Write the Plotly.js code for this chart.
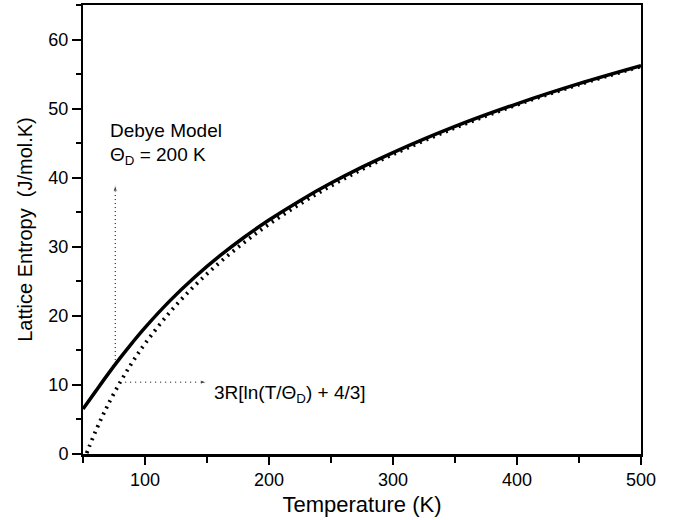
<!DOCTYPE html>
<html>
<head>
<meta charset="utf-8">
<script src="https://cdn.plot.ly/plotly-3.0.1.min.js"></script>
<style>html,body{margin:0;padding:0;background:#fff;}#chart{width:676px;height:520px;}</style>
</head>
<body>
<div id="chart"></div>
<script>
// Debye model lattice entropy (solid)
const debyeT = [50, 60, 70, 80, 90, 100, 120, 140, 160, 180, 200, 225, 250, 275, 300, 350, 400, 450, 500];
const debyeS = [6.50, 9.03, 11.53, 13.91, 16.17, 18.30, 22.17, 25.59, 28.64, 31.38, 33.87, 36.68, 39.22, 41.53, 43.64, 47.42, 50.70, 53.61, 56.21];
// High-temperature approximation 3R[ln(T/ΘD) + 4/3] (dotted)
const approxT = [53, 55, 60, 65, 70, 80, 90, 100, 120, 140, 160, 180, 200, 225, 250, 275, 300, 350, 400, 450, 500];
const approxS = [0.13, 1.06, 3.23, 5.22, 7.07, 10.40, 13.34, 15.97, 20.52, 24.36, 27.69, 30.63, 33.26, 36.19, 38.82, 41.20, 43.37, 47.21, 50.55, 53.48, 56.11];
// annotation arrows
const vArrowT = [76, 76];
const vArrowS = [13.6, 39];
const hArrowT = [84, 150];
const hArrowS = [10.4, 10.4];
const yTicks = [0, 10, 20, 30, 40, 50, 60];
const xTicks = [100, 200, 300, 400, 500];

const font = "Liberation Sans, Arial, Helvetica, sans-serif";

const traces = [
  {x: debyeT, y: debyeS, mode: 'lines', line: {color: '#000', width: 3.5, shape: 'spline'}, hoverinfo: 'skip'},
  {x: approxT, y: approxS, mode: 'lines', line: {color: '#000', width: 3.8, dash: '2px,5px', shape: 'spline'}, hoverinfo: 'skip'},
  {x: vArrowT, y: vArrowS, mode: 'lines+markers', line: {color: '#000', width: 1, dash: '1px,3px'},
   marker: {symbol: 'arrow', size: [0, 7], color: '#000', angleref: 'previous'}, hoverinfo: 'skip'},
  {x: hArrowT, y: hArrowS, mode: 'lines+markers', line: {color: '#000', width: 1, dash: '1px,4px'},
   marker: {symbol: 'arrow', size: [0, 7], color: '#000', angleref: 'previous'}, hoverinfo: 'skip'}
];

const layout = {
  width: 676, height: 520,
  margin: {l: 83, r: 35, t: 5, b: 66},
  paper_bgcolor: '#fff', plot_bgcolor: '#fff',
  showlegend: false,
  font: {family: font, color: '#000', size: 18},
  xaxis: {
    range: [50, 500], showgrid: false, zeroline: false,
    showline: true, linecolor: '#000', linewidth: 2.5, mirror: true,
    ticks: 'outside', ticklen: 8, tickwidth: 2, tickcolor: '#000',
    tickvals: xTicks, ticktext: xTicks.map(String),
    tickfont: {size: 18, family: font},
    minor: {dtick: 50, tick0: 0, ticks: 'outside', ticklen: 6, tickwidth: 2, tickcolor: '#000'},
    title: {text: 'Temperature (K)', font: {size: 22, family: font}, standoff: 8}
  },
  yaxis: {
    range: [0, 65], showgrid: false, zeroline: false,
    showline: true, linecolor: '#000', linewidth: 2, mirror: true,
    ticks: 'outside', ticklen: 9, tickwidth: 2, tickcolor: '#000',
    tickvals: yTicks, ticktext: yTicks.map(String),
    tickfont: {size: 18, family: font},
    minor: {dtick: 5, tick0: 0, ticks: 'outside', ticklen: 5, tickwidth: 2, tickcolor: '#000'},
    title: {text: 'Lattice Entropy&nbsp;&nbsp;(J/mol.K)', font: {size: 20, family: font}, standoff: 10}
  },
  annotations: [
    {x: 70.0, y: 46.8, xref: 'x', yref: 'y', text: 'Debye Model', showarrow: false,
     xanchor: 'left', yanchor: 'middle', font: {size: 19, family: font}},
    {x: 70.0, y: 43.2, xref: 'x', yref: 'y', text: 'Θ<sub>D</sub> = 200 K', showarrow: false,
     xanchor: 'left', yanchor: 'middle', font: {size: 19, family: font}},
    {x: 154.0, y: 8.7, xref: 'x', yref: 'y', text: '3R[ln(T/Θ<sub>D</sub>) + 4/3]', showarrow: false,
     xanchor: 'left', yanchor: 'middle', font: {size: 19, family: font}}
  ]
};

Plotly.newPlot('chart', traces, layout, {displayModeBar: false, staticPlot: true});
</script>
</body>
</html>
